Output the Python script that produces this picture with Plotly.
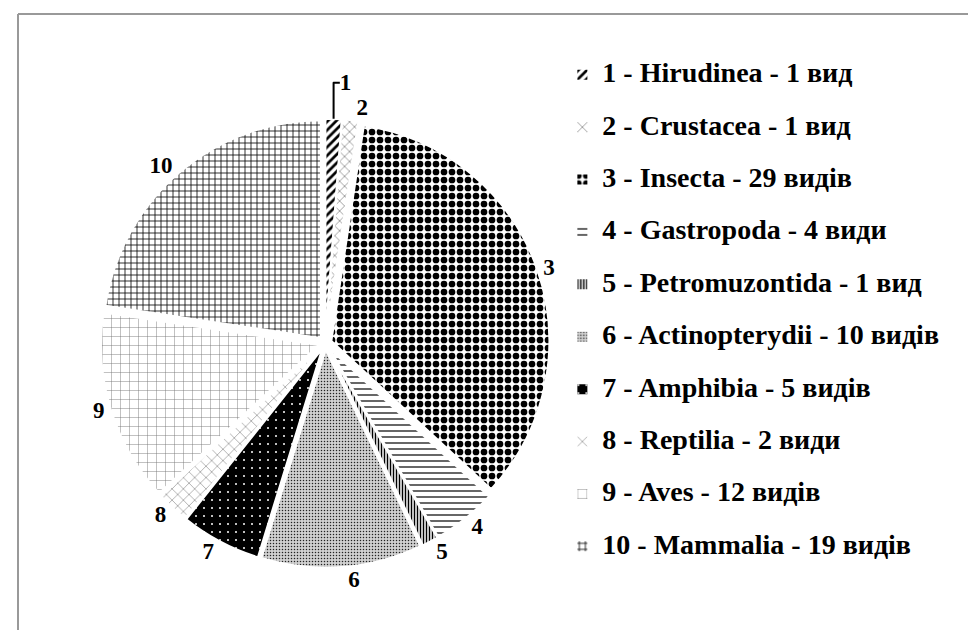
import plotly.graph_objects as go

numbers = ["1", "2", "3", "4", "5", "6", "7", "8", "9", "10"]
taxa = ["Hirudinea", "Crustacea", "Insecta", "Gastropoda", "Petromuzontida",
        "Actinopterydii", "Amphibia", "Reptilia", "Aves", "Mammalia"]
species = [1, 1, 29, 4, 1, 10, 5, 2, 12, 19]
species_word = ["вид", "вид", "видів", "види", "вид", "видів", "видів", "види", "видів", "видів"]

legend_labels = [
    f'<span style="font-size:28px">{n} - {t} - {v} {w}</span><br>\u00a0'
    for n, t, v, w in zip(numbers, taxa, species, species_word)
]

shapes_ = ["/", "x", ".", "-", "|", ".", ".", "x", "+", "+"]
fg = ["black", "#555", "black", "black", "black", "#222", "white", "#666", "#777", "black"]
bg = ["white", "white", "white", "white", "white", "#d0d0d0", "black", "white", "white", "white"]
psize = [6, 7, 8, 6, 3, 3, 8, 8, 9, 6]
solid = [0.45, 0.15, 0.55, 0.2, 0.5, 0.2, 0.05, 0.12, 0.1, 0.25]

fig = go.Figure()
fig.add_trace(go.Pie(
    labels=legend_labels,
    values=species,
    text=numbers,
    textinfo="text",
    textposition="outside",
    sort=False,
    direction="clockwise",
    rotation=0,
    pull=[0.03] * 10,
    marker=dict(
        colors=bg,
        line=dict(color="white", width=2),
        pattern=dict(shape=shapes_, fgcolor=fg, bgcolor=bg, size=psize, solidity=solid),
    ),
    textfont=dict(family="Liberation Serif", size=23, color="black", weight="bold"),
    domain=dict(x=[0.095, 0.555], y=[0.111, 0.825]),
    hoverinfo="skip",
    showlegend=True,
))

fig.update_layout(
    width=976, height=630,
    margin=dict(l=0, r=0, t=0, b=0),
    paper_bgcolor="white",
    plot_bgcolor="white",
    showlegend=True,
    legend=dict(
        x=0.568, y=0.924, xanchor="left", yanchor="top",
        font=dict(family="Liberation Serif", size=19, color="black", weight="bold"),
        valign="top",
        bgcolor="rgba(0,0,0,0)",
        traceorder="normal",
    ),
    shapes=[
        dict(type="line", xref="paper", yref="paper", x0=10/976, x1=1, y0=1-6/630, y1=1-6/630,
             line=dict(color="#999", width=2)),
        dict(type="line", xref="paper", yref="paper", x0=10/976, x1=10/976, y0=0, y1=1-6/630,
             line=dict(color="#999", width=2)),
    ],
)

fig.write_html("out.html")
